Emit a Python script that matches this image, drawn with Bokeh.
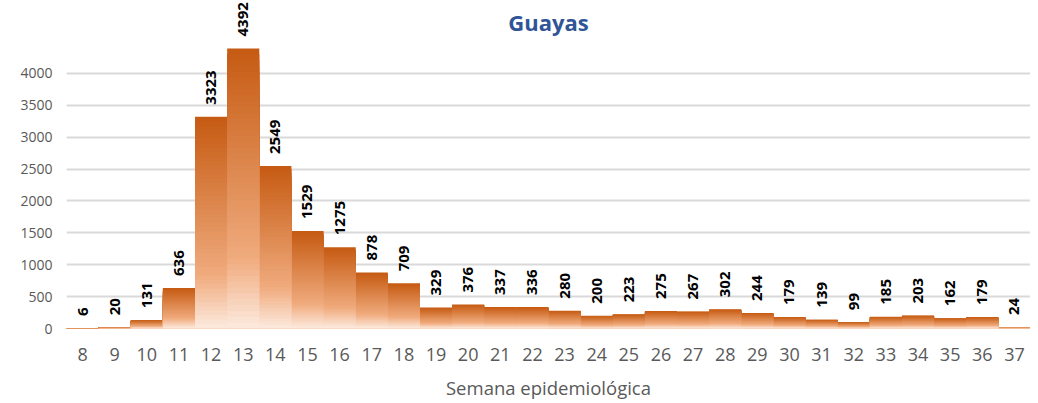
from bokeh.plotting import figure
from bokeh.models import FixedTicker, Label, LabelSet, ColumnDataSource
from bokeh.core.properties import value
from bokeh.embed import file_html
from bokeh.resources import INLINE
import math

weeks = ["8", "9", "10", "11", "12", "13", "14", "15", "16", "17", "18", "19", "20", "21", "22",
         "23", "24", "25", "26", "27", "28", "29", "30", "31", "32", "33", "34", "35", "36", "37"]
cases = [6, 20, 131, 636, 3323, 4392, 2549, 1529, 1275, 878, 709, 329, 376, 337, 336,
         280, 200, 223, 275, 267, 302, 244, 179, 139, 99, 185, 203, 162, 179, 24]
y_ticks = [0, 500, 1000, 1500, 2000, 2500, 3000, 3500, 4000]
title_text = "Guayas"
x_title = "Semana epidemiológica"

FONT = "Open Sans"
Y_MAX = 5145

# gradient stops: position from top of bar (0) to bottom (1)
stops = [(0.0, (197, 90, 17)), (0.75, (240, 171, 126)), (1.0, (253, 235, 223))]


def grad(t):
    for (t0, c0), (t1, c1) in zip(stops[:-1], stops[1:]):
        if t <= t1:
            f = (t - t0) / (t1 - t0)
            r, g, b = (int(round(a + (bb - a) * f)) for a, bb in zip(c0, c1))
            return "#%02x%02x%02x" % (r, g, b)
    return "#%02x%02x%02x" % stops[-1][1]


N = 48
xs, tops, colors = [], [], []
for k in range(N):
    frac = (N - k) / N          # this rect covers 0 .. frac*value
    t = k / N + 0.5 / N         # colour of its top band
    for w, v in zip(weeks, cases):
        xs.append(w)
        tops.append(v * frac)
        colors.append(grad(t))
bars = ColumnDataSource(dict(x=xs, top=tops, color=colors))

p = figure(x_range=weeks, y_range=(0, Y_MAX), width=1030, height=403,
           output_backend="svg", toolbar_location=None,
           min_border_left=66, min_border_right=0, min_border_top=0, min_border_bottom=75)
p.x_range.range_padding = 0
p.outline_line_color = None
p.background_fill_color = "white"
p.border_fill_color = "white"

p.vbar(x="x", top="top", bottom=0, width=1.0, source=bars,
       fill_color="color", line_color=None)

lbl_src = ColumnDataSource(dict(x=weeks, y=cases, t=[str(v) for v in cases]))
p.add_layout(LabelSet(x="x", y="y", text="t", source=lbl_src, angle=math.pi / 2,
                      text_align="left", text_baseline="middle", y_offset=12,
                      text_font=value(FONT), text_font_style="bold",
                      text_font_size="15px", text_color="#000000"))

p.add_layout(Label(x=len(weeks) / 2, y=4800, text=title_text, text_align="center",
                   text_baseline="middle", text_font=FONT, text_font_style="bold",
                   text_font_size="22px", text_color="#2f5597"))

p.xgrid.grid_line_color = None
p.ygrid.grid_line_color = "#d9d9d9"
p.ygrid.grid_line_width = 2
p.yaxis.ticker = FixedTicker(ticks=y_ticks)

for ax in (p.xaxis, p.yaxis):
    ax.axis_line_color = None
    ax.major_tick_line_color = None
    ax.minor_tick_line_color = None
    ax.major_tick_out = 0
    ax.major_tick_in = 0
    ax.major_label_text_font = FONT
    ax.major_label_text_color = "#595959"

p.yaxis.major_label_text_font_size = "14px"
p.yaxis.major_label_standoff = 14
p.xaxis.major_label_text_font_size = "18px"
p.xaxis.major_label_standoff = 19
p.xaxis.axis_label = x_title
p.xaxis.axis_label_text_font = FONT
p.xaxis.axis_label_text_font_style = "normal"
p.xaxis.axis_label_text_font_size = "18.5px"
p.xaxis.axis_label_text_color = "#595959"
p.xaxis.axis_label_standoff = 11

open("out.html", "w").write(file_html(p, INLINE))
